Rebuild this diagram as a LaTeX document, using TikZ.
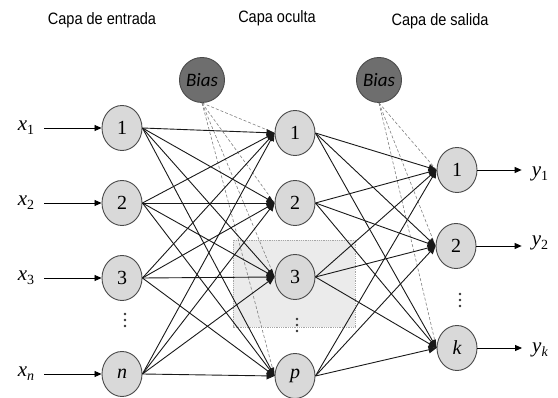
\documentclass[tikz,border=0pt]{standalone}
\usepackage{fontspec}
\setmainfont{Liberation Serif}
\newfontfamily\titlefont[FakeStretch=0.88]{Liberation Sans}
\newfontfamily\biasfont{Carlito}
\usetikzlibrary{arrows.meta,shapes.geometric}
\newcommand{\lbl}[2]{{\itshape #1}\raisebox{-0.45ex}{\fontsize{14}{14}\selectfont #2}}
\definecolor{nodefill}{HTML}{D9D9D9}
\definecolor{nodeline}{HTML}{4A4A4A}
\definecolor{biasfill}{HTML}{6E6E6E}
\definecolor{boxfill}{HTML}{EBEBEB}
\tikzset{
  neuron/.style={ellipse,draw=nodeline,line width=0.9pt,fill=nodefill,minimum width=40pt,minimum height=45pt,inner sep=0pt,font=\fontsize{20}{20}\selectfont},
  biasnode/.style={ellipse,draw=nodeline,line width=0.9pt,fill=biasfill,minimum width=40pt,minimum height=45pt,inner sep=0pt,font=\biasfont\itshape\fontsize{19}{19}\selectfont},
  conn/.style={line width=0.9pt,draw=black!90,-{Triangle[length=8pt,width=7pt]}},
  biasconn/.style={line width=0.6pt,draw=black!50,densely dashed},
  inarrow/.style={line width=0.8pt,-{Triangle[length=7pt,width=6pt]}},
  title/.style={font=\titlefont\fontsize{16.5}{16.5}\selectfont},
  varlabel/.style={font=\fontsize{21}{21}\selectfont,inner sep=0pt},
  dotmark/.style={fill=black!80}
}
\newcommand{\vdotsat}[2]{\foreach \dy in {-6,0,6} \fill[dotmark] (#1,#2+\dy) circle (1.4pt);}
\begin{document}
\begin{tikzpicture}[x=1pt,y=-1pt]
\useasboundingbox (0,0) rectangle (558,398);
% shaded box
\fill[boxfill] (233,240) rectangle (355,327);
\draw[black!35,densely dotted,line width=0.8pt] (233,240) rectangle (355,327);
% titles
\node[title] (t1) at (102,20) {Capa de entrada};
\node[title] (t2) at (277,18) {Capa oculta};
\node[title] (t3) at (440,21) {Capa de salida};
% input nodes
\node[neuron] (i1) at (122,128) {1};
\node[neuron] (i2) at (122,203) {2};
\node[neuron] (i3) at (122,278) {3};
\node[neuron] (in) at (122,374) {\itshape n};
% hidden nodes
\node[neuron] (h1) at (295,133) {1};
\node[neuron] (h2) at (295,203) {2};
\node[neuron] (h3) at (295,277) {3};
\node[neuron] (hp) at (295,376) {\itshape p};
% output nodes
\node[neuron] (o1) at (457,170) {1};
\node[neuron] (o2) at (456,246) {2};
\node[neuron] (ok) at (457,348) {\itshape k};
% dots
\vdotsat{125}{320}
\vdotsat{297}{325}
\vdotsat{460}{300}
% bias nodes
\node[biasnode] (b1) at (202,80) {Bias};
\node[biasnode] (b2) at (379,80) {Bias};
% input labels
\node[varlabel] (x1) at (26,128) {\lbl{x}{1}};
\node[varlabel] (x2) at (26,203) {\lbl{x}{2}};
\node[varlabel] (x3) at (26,278) {\lbl{x}{3}};
\node[varlabel] (xn) at (26,374) {\lbl{x}{\itshape n}};
% output labels
\node[varlabel] (y1) at (540,174) {\lbl{y}{1}};
\node[varlabel] (y2) at (540,243) {\lbl{y}{2}};
\node[varlabel] (yk) at (540,350) {\lbl{y}{\itshape k}};
% bias connections
\foreach \h in {h1,h2,h3,hp} \draw[biasconn] (b1.south) -- (\h.west);
\foreach \o in {o1,o2,ok} \draw[biasconn] (b2.south) -- (\o.west);
% input arrows
\foreach \x/\i in {x1/i1,x2/i2,x3/i3,xn/in}
  \draw[inarrow] ([xshift=10pt]\x.east) -- (\i.west);
% input -> hidden
\foreach \i in {i1,i2,i3,in}
  \foreach \h in {h1,h2,h3,hp}
    \draw[conn] (\i.east) -- (\h.west);
% hidden -> output
\foreach \h in {h1,h2,h3,hp}
  \foreach \o in {o1,o2,ok}
    \draw[conn] (\h.east) -- (\o.west);
% output arrows
\foreach \o/\y in {o1/y1,o2/y2,ok/yk}
  \draw[inarrow] (\o.east) -- ([xshift=-10pt]\y.west |- \o.east);
\end{tikzpicture}
\end{document}
